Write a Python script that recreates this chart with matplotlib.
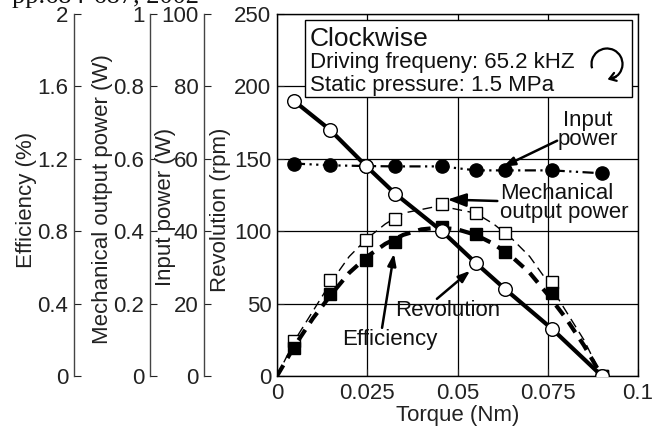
import math
import matplotlib
matplotlib.use('Agg')
import matplotlib.pyplot as plt
from matplotlib.patches import Rectangle, Arc

plt.rcParams['font.family'] = ['Liberation Sans', 'DejaVu Sans']

# ---- data ----
torque = [0.0047, 0.0147, 0.0247, 0.0327, 0.0457, 0.0551, 0.0632, 0.0762, 0.090]
revolution = [190, 170, 145, 126, 100, 78, 60, 32.5, 0]
input_power = [58.7, 58.2, 58.0, 57.9, 57.9, 56.8, 56.8, 56.8, 56.0]
mech_power = [0.097, 0.266, 0.377, 0.435, 0.476, 0.449, 0.396, 0.260, 0.0]
efficiency = [0.155, 0.454, 0.643, 0.742, 0.825, 0.787, 0.687, 0.460, 0.0]

curve_torque = [0, 0.005, 0.01, 0.015, 0.02, 0.025, 0.03, 0.035, 0.04, 0.045,
                0.05, 0.055, 0.06, 0.065, 0.07, 0.075, 0.08, 0.085, 0.09]
eff_curve = [0, 0.17, 0.32, 0.45, 0.57, 0.66, 0.73, 0.78, 0.81, 0.82,
             0.81, 0.78, 0.73, 0.66, 0.57, 0.45, 0.32, 0.17, 0]
mech_curve = [0, 0.10, 0.18, 0.26, 0.33, 0.38, 0.42, 0.45, 0.46, 0.47,
              0.46, 0.45, 0.42, 0.38, 0.33, 0.26, 0.18, 0.10, 0]

x_ticks = [0, 0.025, 0.05, 0.075, 0.1]
x_ticklabels = ['0', '0.025', '0.05', '0.075', '0.1']
rev_ticks = [0, 50, 100, 150, 200, 250]
eff_ticks = [0, 0.4, 0.8, 1.2, 1.6, 2]
eff_ticklabels = ['0', '0.4', '0.8', '1.2', '1.6', '2']
mech_ticks = [0, 0.2, 0.4, 0.6, 0.8, 1]
mech_ticklabels = ['0', '0.2', '0.4', '0.6', '0.8', '1']
in_ticks = [0, 20, 40, 60, 80, 100]

FS = 16
W, H = 665, 428
L, R, T, B = 277, 638, 14, 376
AW = R - L
AH = B - T


def frac_x(px):
    return (px - L) / AW


def frac_y(py):
    return (B - py) / AH


fig = plt.figure(figsize=(W / 100, H / 100), dpi=100)
ax = fig.add_axes([L / W, 1 - B / H, AW / W, AH / H])
ax.set_xlim(0, 0.1)
ax.set_ylim(0, 250)
ax.set_xticks(x_ticks)
ax.set_xticklabels(x_ticklabels)
ax.set_yticks(rev_ticks)
ax.grid(True, color='black', lw=0.9)
ax.tick_params(direction='in', length=5, labelsize=FS, pad=4, colors='#222222')
ax.tick_params(axis='x', pad=5)
ax.set_xlabel('Torque (Nm)', fontsize=FS, labelpad=1, color='#222222')
ax.set_ylabel('Revolution (rpm)', fontsize=FS, color='#222222')
ax.yaxis.set_label_coords(frac_x(231), frac_y(210))
for s in ax.spines.values():
    s.set_color('black')
    s.set_linewidth(1.0)


def side_axis(ylim, ticks, ticklabels, label, spine_px, label_px, label_py):
    a = ax.twinx()
    a.set_ylim(*ylim)
    a.yaxis.set_ticks_position('left')
    a.yaxis.set_label_position('left')
    a.spines['left'].set_position(('axes', frac_x(spine_px)))
    a.spines['left'].set_visible(True)
    a.spines['left'].set_color('#444444')
    a.spines['left'].set_linewidth(1.0)
    for s in ['right', 'top', 'bottom']:
        a.spines[s].set_visible(False)
    a.set_yticks(ticks)
    if ticklabels is not None:
        a.set_yticklabels(ticklabels)
    a.tick_params(direction='in', length=5, labelsize=FS, pad=4, colors='#222222')
    a.set_ylabel(label, fontsize=FS, color='#222222')
    a.yaxis.set_label_coords(frac_x(label_px), frac_y(label_py))
    a.patch.set_visible(False)
    return a


ax_in = side_axis((0, 100), in_ticks, None, 'Input power (W)', 204, 176, 207)
ax_mech = side_axis((0, 1), mech_ticks, mech_ticklabels, 'Mechanical output power (W)',
                    150, 113, 199)
ax_eff = side_axis((0, 2), eff_ticks, eff_ticklabels, 'Efficiency (%)', 74, 37, 200)

# input power: filled circles, dash-dot line
ax_in.plot(torque, input_power, color='black', lw=1.6,
           linestyle=(0, (5, 2, 1, 2, 1, 2)),
           marker='o', ms=9.5, mfc='black', mec='black')

# mechanical output power: thin dashed curve + open squares
ax_mech.plot(curve_torque, mech_curve, color='black', lw=1.0, linestyle=(0, (7, 4)))
ax_mech.plot(torque, mech_power, linestyle='none', marker='s', ms=8.5,
             mfc='white', mec='black', mew=1.0)

# efficiency: thick dashed curve + filled squares
ax_eff.plot(curve_torque, eff_curve, color='black', lw=3.0, linestyle=(0, (3, 2)))
ax_eff.plot(torque, efficiency, linestyle='none', marker='s', ms=8.5,
            mfc='black', mec='black')

# revolution on top
ax_rev = ax.twinx()
ax_rev.set_ylim(0, 250)
ax_rev.set_yticks([])
for s in ax_rev.spines.values():
    s.set_visible(False)
ax_rev.patch.set_visible(False)
ax_rev.plot(torque, revolution, color='black', lw=3.0, marker='o', ms=9.8,
            mfc='white', mec='black', mew=1.0)

# info box
ax_rev.add_patch(Rectangle((frac_x(305), frac_y(97)), frac_x(632) - frac_x(305),
                           frac_y(20) - frac_y(97), transform=ax_rev.transAxes,
                           fc='white', ec='black', lw=1.0, zorder=5))
ax_rev.text(frac_x(310), frac_y(46), 'Clockwise', transform=ax_rev.transAxes,
            fontsize=19, va='baseline', ha='left', zorder=6, color='#111111')
ax_rev.text(frac_x(310), frac_y(68), 'Driving frequeny: 65.2 kHZ', transform=ax_rev.transAxes,
            fontsize=16, va='baseline', ha='left', zorder=6, color='#111111')
ax_rev.text(frac_x(310), frac_y(91), 'Static pressure: 1.5 MPa', transform=ax_rev.transAxes,
            fontsize=16, va='baseline', ha='left', zorder=6, color='#111111')

# clockwise icon
cx, cy, r = 607, 64, 15.5
ax_rev.add_patch(Arc((frac_x(cx), frac_y(cy)), 2 * r / AW, 2 * r / AH,
                     theta1=-70, theta2=196, transform=ax_rev.transAxes,
                     color='black', lw=1.6, zorder=6))
a1, a2 = math.radians(-55), math.radians(-88)
ax_rev.annotate('', xy=(frac_x(cx + r * math.cos(a2)), frac_y(cy - r * math.sin(a2))),
                xytext=(frac_x(cx + r * math.cos(a1)), frac_y(cy - r * math.sin(a1))),
                xycoords=ax_rev.transAxes, textcoords=ax_rev.transAxes,
                arrowprops=dict(arrowstyle='->,head_length=0.45,head_width=0.3',
                                lw=1.6, color='black', shrinkA=0, shrinkB=0),
                zorder=6)

arrow = dict(arrowstyle='-|>,head_length=0.7,head_width=0.25', lw=1.8,
             color='black', shrinkA=0, shrinkB=0)

# Input power label
ax_rev.text(0.0861, 67.9 * 2.5, 'Input\npower', fontsize=FS, ha='center', va='center',
            linespacing=0.85, color='#111111', zorder=7)
ax_rev.annotate('', xy=(0.0626, 57.8), xytext=(0.0776, 65.0),
                xycoords=ax_in.transData, textcoords=ax_in.transData,
                arrowprops=arrow, zorder=7)

# Mechanical output power label
ax_rev.annotate('Mechanical\noutput power', xy=(0.0472, 0.4875), xytext=(0.0618, 0.478),
                xycoords=ax_mech.transData, textcoords=ax_mech.transData,
                fontsize=FS, ha='left', va='center', linespacing=0.85,
                color='#111111', arrowprops=arrow, zorder=7)

# Revolution label
ax_rev.text(0.0474, 45.0, 'Revolution', fontsize=FS, ha='center', va='center',
            color='#111111', zorder=7)
ax_rev.annotate('', xy=(0.0535, 72.7), xytext=(0.0443, 53.3),
                arrowprops=arrow, zorder=7)

# Efficiency label
ax_rev.text(0.0313, 0.200 * 125, 'Efficiency', fontsize=FS, ha='center', va='center',
            color='#111111', zorder=7)
ax_rev.annotate('', xy=(0.0324, 0.676), xytext=(0.0291, 0.266),
                xycoords=ax_eff.transData, textcoords=ax_eff.transData,
                arrowprops=arrow, zorder=7)

# cropped citation at the very top
fig.text(12 / W, 1 - 3 / H, 'pp.684-687, 2002', fontsize=19, family='Liberation Serif',
         ha='left', va='baseline', color='#111111')

fig.savefig('out.png', dpi=100)
